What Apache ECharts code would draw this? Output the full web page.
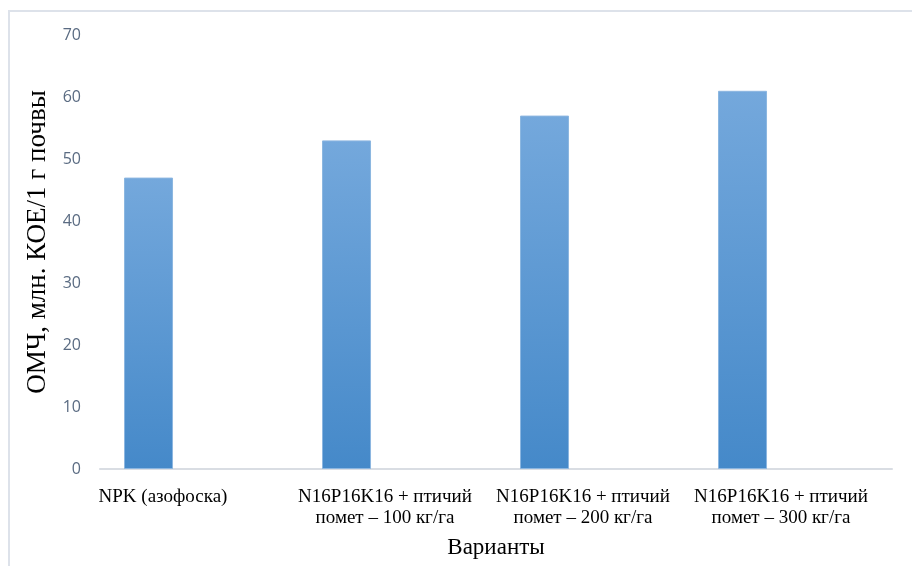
<!DOCTYPE html>
<html><head><meta charset="utf-8">
<script src="https://cdn.jsdelivr.net/npm/echarts@6/dist/echarts.min.js"></script>
<style>html,body{margin:0;padding:0;background:#fff}#c{width:912px;height:566px}</style>
</head><body><div id="c"></div>
<script>
const categories = [
  'NPK (азофоска)',
  'N16P16K16 + птичий\nпомет – 100 кг/га',
  'N16P16K16 + птичий\nпомет – 200 кг/га',
  'N16P16K16 + птичий\nпомет – 300 кг/га'
];
const values = [47, 53, 57, 61];
const yTicks = {min: 0, max: 70, interval: 10};
const yTitle = 'ОМЧ, млн. КОЕ/1 г почвы';
const xTitle = 'Варианты';

const chart = echarts.init(document.getElementById('c'), null, {renderer: 'canvas'});
const serif = '"Liberation Serif", "Times New Roman", serif';
chart.setOption({
  animation: false,
  backgroundColor: '#fff',
  graphic: [{
    type: 'rect', shape: {x: 9, y: 11, width: 1000, height: 1000},
    style: {fill: 'none', stroke: '#dde2ea', lineWidth: 2}, silent: true, z: -1
  }],
  grid: {left: 100, right: 20, top: 35, bottom: 97},
  xAxis: {
    type: 'category', data: categories,
    axisLine: {lineStyle: {color: '#d9dde3', width: 2}},
    axisTick: {show: false},
    axisLabel: {
      interval: 0, margin: 18,
      formatter: function (v, i) {
        const key = i === 0 ? 'a' : 'b';
        return v.split('\n').map(s => '{' + key + '|' + s + '}').join('\n');
      },
      rich: {
        a: {fontFamily: serif, fontSize: 19, color: '#000', lineHeight: 21, padding: [0, 72, 0, 0]},
        b: {fontFamily: serif, fontSize: 19, color: '#000', lineHeight: 21, padding: [0, 24, 0, 0]}
      }
    },
    name: xTitle, nameLocation: 'middle', nameGap: 67,
    nameTextStyle: {fontFamily: serif, fontSize: 23, color: '#000'}
  },
  yAxis: {
    type: 'value', min: yTicks.min, max: yTicks.max, interval: yTicks.interval,
    axisLine: {show: false}, axisTick: {show: false},
    splitLine: {show: false},
    axisLabel: {margin: 19, fontFamily: '"Open Sans", "Noto Sans", sans-serif', fontSize: 16, color: '#5a6b82'},
    name: yTitle, nameLocation: 'middle', nameGap: 42, nameRotate: 90,
    nameTextStyle: {fontFamily: serif, fontSize: 27, color: '#000', padding: [0, 0, 0, 20]}
  },
  series: [{
    type: 'bar', data: values, barWidth: 49, barGap: '106%',
    itemStyle: {
      color: new echarts.graphic.LinearGradient(0, 0, 0, 1, [
        {offset: 0, color: '#74a8dc'}, {offset: 1, color: '#4589c9'}
      ]),
      borderColor: '#8cb6e0', borderWidth: 1
    }
  }, {
    type: 'bar', data: values.map(() => '-'), barWidth: 49
  }]
});
</script></body></html>
